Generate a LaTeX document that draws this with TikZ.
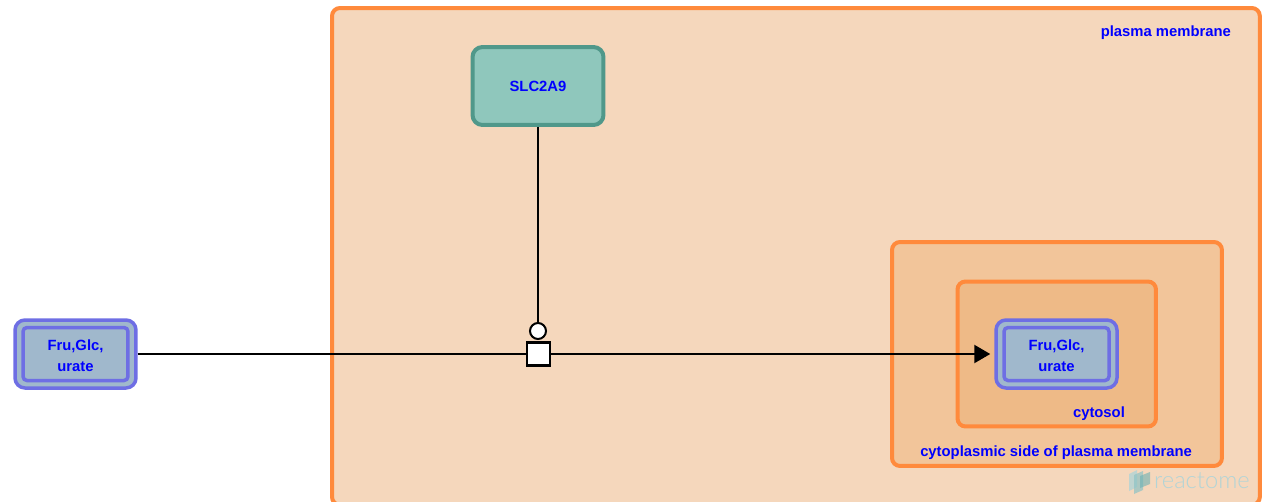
\documentclass[tikz,border=0pt]{standalone}
\usepackage{fontspec}
\setmainfont{Liberation Sans}
\newfontfamily\logofont{Lato Light}
\usetikzlibrary{arrows.meta}

\definecolor{compline}{HTML}{FF8A3C}
\definecolor{compa}{HTML}{F5D7BC}
\definecolor{compb}{HTML}{F2C59A}
\definecolor{compc}{HTML}{EEBA87}
\definecolor{setline}{HTML}{6E6EE4}
\definecolor{setfill}{HTML}{A0B8CC}
\definecolor{protline}{HTML}{50988A}
\definecolor{protfill}{HTML}{8FC7BC}
\definecolor{labelblue}{HTML}{0000FF}
\definecolor{logotext}{HTML}{B2D4D6}

\tikzset{
    lbl/.style={text=labelblue, font=\bfseries\fontsize{8.43}{12}\selectfont, align=center, inner sep=0pt},
    compartment/.style={draw=compline, line width=0.08cm, rounded corners=0.16cm, anchor=north west, outer sep=0pt},
    setouter/.style={draw=setline, fill=setfill, line width=0.07cm, rounded corners=0.2cm, minimum width=2.42cm, minimum height=1.36cm},
    setinner/.style={lbl, draw=setline, fill=setfill, line width=0.07cm, rounded corners=0.08cm, minimum width=2.1cm, minimum height=1.06cm, text height=19.9pt},
    protein/.style={lbl, draw=protline, fill=protfill, line width=0.08cm, rounded corners=0.2cm, minimum width=2.62cm, minimum height=1.56cm}
}

\begin{document}
\begin{tikzpicture}[x=0.02cm, y=-0.02cm, line width=0.045cm, >={Triangle[length=0.32cm, width=0.36cm]}]
    \useasboundingbox (0,0) rectangle (1263,501);
    \clip (0,0) rectangle (1263,501);

    % compartments
    \node[compartment, fill=compa, minimum width=18.56cm, minimum height=9.94cm] (membrane) at (332,8) {};
    \node[compartment, fill=compb, minimum width=6.6cm, minimum height=4.48cm] (cytoside) at (892,242) {};
    \node[compartment, fill=compc, minimum width=3.97cm, minimum height=2.9cm] (cytosol) at (957.5,281.5) {};

    \node[lbl, anchor=east] (membranelbl) at (1232,33) {plasma membrane};
    \node[lbl, anchor=east] (cytosidelbl) at (1193,452.5) {cytoplasmic side of plasma membrane};
    \node[lbl, anchor=east] (cytosollbl) at (1126,414) {cytosol};

    % entities
    \node[setouter] (inset) at (75.5,354) {};
    \node[setinner] at (inset.center) {Fru,Glc,\\urate};
    \node[setouter] (outset) at (1056.5,354) {};
    \node[setinner] at (outset.center) {Fru,Glc,\\urate};
    \node[protein] (slc) at (538,86) {SLC2A9};

    % reaction
    \node[draw, fill=white, line width=0.05cm, minimum size=0.46cm, inner sep=0pt] (react) at (538.5,354) {};
    \node[draw, fill=white, circle, line width=0.04cm, minimum size=0.32cm, inner sep=0pt] (cat) at (538,331) {};

    \draw (inset) -- (react);
    \draw[->, shorten >=0.08cm] (react) -- (outset);
    \draw (slc) -- (cat);

    % logo
    \fill[logotext, opacity=0.8] (1129,474) -- (1137,470) -- (1137,487) -- (1129,491) -- cycle;
    \fill[logotext!80!teal, opacity=0.7] (1134,475) -- (1143,471) -- (1143,490) -- (1134,494) -- cycle;
    \fill[logotext!60!teal, opacity=0.6] (1140,476) -- (1150,472) -- (1150,484) -- (1140,488) -- cycle;
    \node[text=logotext, font=\logofont\fontsize{13.5}{15}\selectfont, anchor=west, inner sep=0pt] (logo) at (1153,481) {reactome};
\end{tikzpicture}
\end{document}
